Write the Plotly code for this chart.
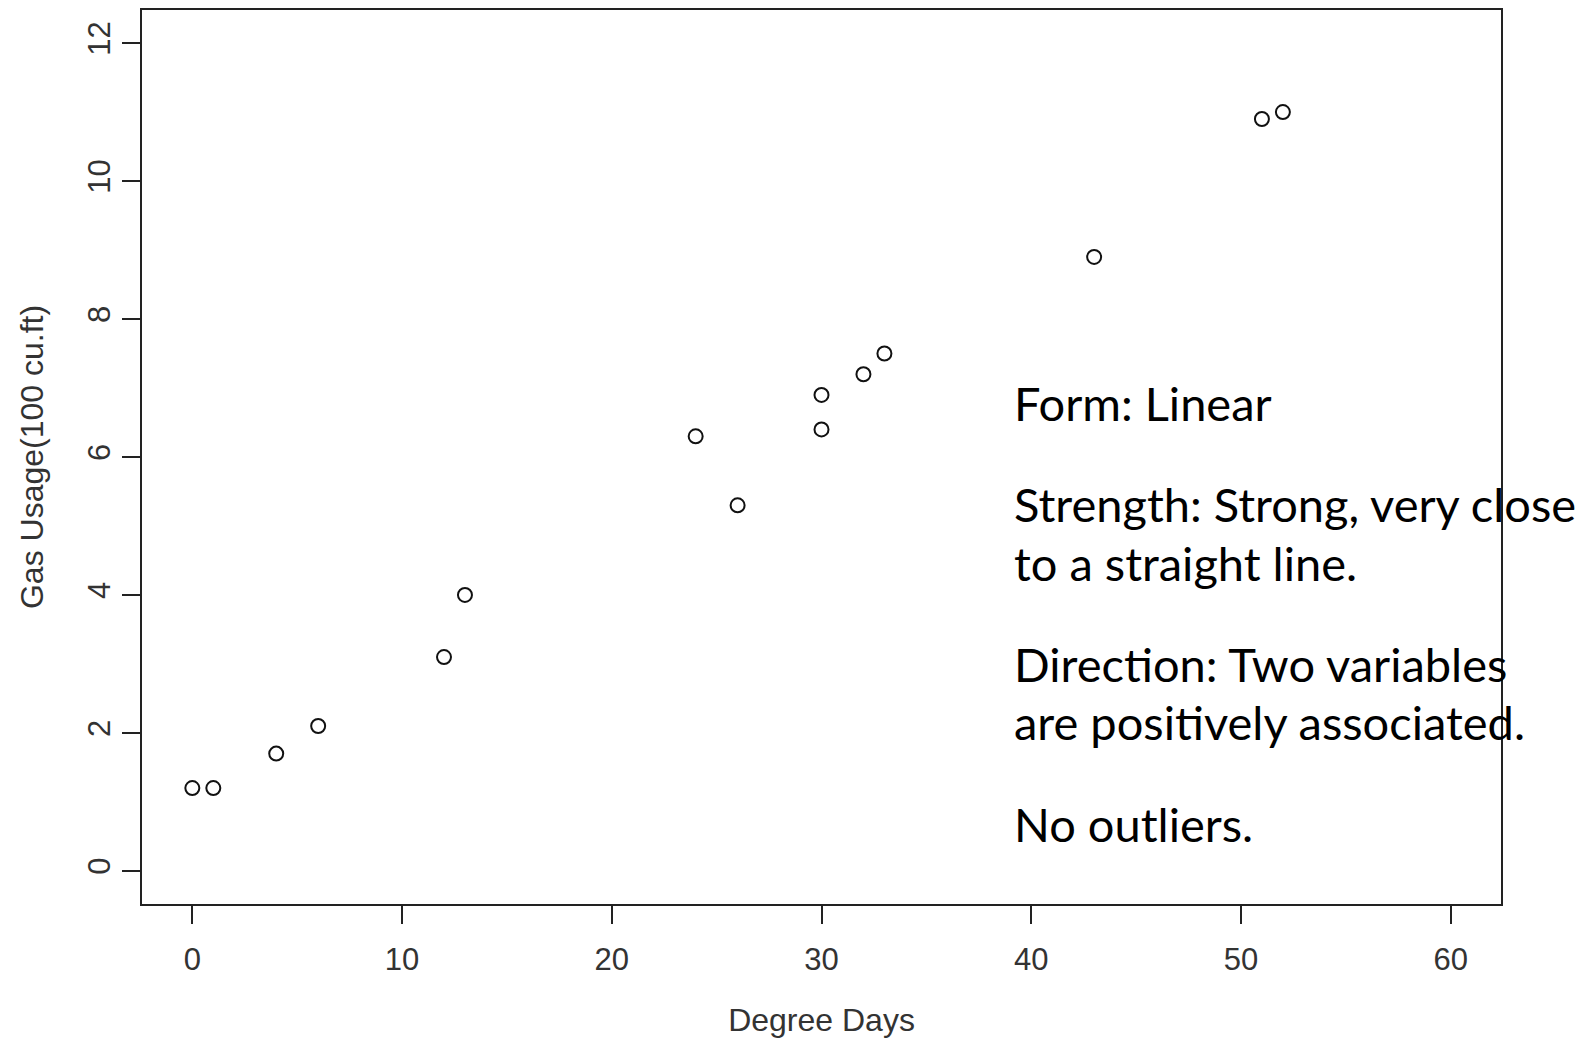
import plotly.graph_objects as go

# Data: heating degree days vs gas usage
degree_days = [0, 1, 4, 6, 12, 13, 24, 26, 30, 30, 32, 33, 43, 51, 52]
gas_usage = [1.2, 1.2, 1.7, 2.1, 3.1, 4.0, 6.3, 5.3, 6.9, 6.4, 7.2, 7.5, 8.9, 10.9, 11.0]

x_ticks = [0, 10, 20, 30, 40, 50, 60]
y_ticks = [0, 2, 4, 6, 8, 10, 12]

notes = [
    "Form: Linear",
    "Strength: Strong, very close",
    "to a straight line.",
    "Direction: Two variables",
    "are positively associated.",
    "No outliers.",
]

OFF = 8  # page body margin
W, H = 1592 - OFF, 1041 - OFF
# target plot box in screen pixels: left 142, top 7, right 1501, bottom 904
L, T = 142 - OFF, 0
R = W - (1501 - OFF)
B = H - (904 - OFF)
pw, ph = W - L - R, H - T - B


def px(xs):
    return (xs - OFF - L) / pw


def py(ys):
    return 1 - (ys - OFF - T) / ph


fig = go.Figure()
fig.add_trace(go.Scatter(
    x=degree_days, y=gas_usage, mode="markers",
    marker=dict(symbol="circle-open", size=14, color="#111",
                line=dict(width=2, color="#111")),
    showlegend=False,
))

tickfont = dict(family="Liberation Sans, Arial, sans-serif", size=31, color="#333")
titlefont = dict(family="Liberation Sans, Arial, sans-serif", size=32, color="#333")

fig.update_xaxes(
    range=[-2.4, 62.4], tickmode="array", tickvals=x_ticks,
    ticktext=[str(v) for v in x_ticks],
    ticks="outside", ticklen=18, tickwidth=1.5, tickcolor="#222",
    showline=True, linecolor="#222", linewidth=1.5, mirror=True,
    showgrid=False, zeroline=False, tickfont=tickfont,
    ticklabelstandoff=9,
    title=dict(text="Degree Days", font=titlefont, standoff=33),
)
fig.update_yaxes(
    range=[-0.48, 12.48], tickmode="array", tickvals=y_ticks,
    ticktext=[str(v) for v in y_ticks],
    ticks="outside", ticklen=18, tickwidth=1.5, tickcolor="#222",
    showline=True, linecolor="#222", linewidth=1.5, mirror=True,
    showgrid=False, zeroline=False, tickfont=tickfont, tickangle=-90,
    ticklabelstandoff=0,
    title=dict(text="Gas Usage(100 cu.ft)", font=titlefont, standoff=29),
)

note_font = dict(family="Lato, sans-serif", size=47, color="#000")
baselines = [419, 520, 579, 680, 739, 841]
for text, bl in zip(notes, baselines):
    fig.add_annotation(
        text=text, xref="paper", yref="paper",
        x=px(1012), y=py(bl - 17), xanchor="left", yanchor="middle",
        showarrow=False, font=note_font,
    )

fig.update_layout(
    width=W, height=H,
    margin=dict(l=L, r=R, t=T, b=B),
    paper_bgcolor="white", plot_bgcolor="white",
)

fig.write_html("out.html")
